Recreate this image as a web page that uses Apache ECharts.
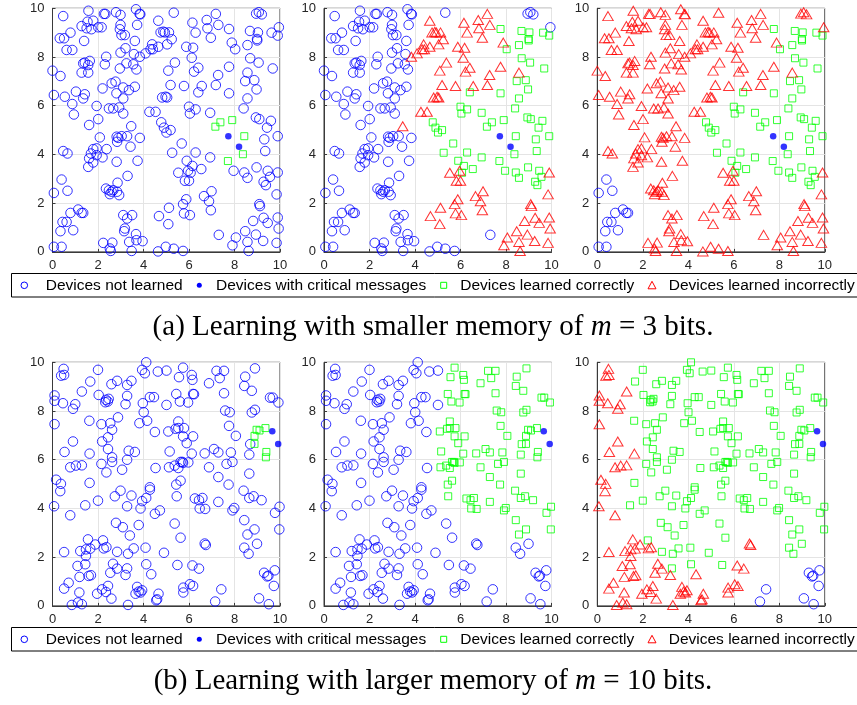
<!DOCTYPE html>
<html><head><meta charset="utf-8">
<script src="https://cdn.jsdelivr.net/npm/echarts@6/dist/echarts.min.js"></script>
<style>html,body{margin:0;padding:0;background:#fff}#c{width:857px;height:705px}</style>
</head><body><div id="c"></div>
<script>
// ---------- Row (a): m = 3 bits (same device positions in all three panels) ----------
// not learned in all three panels
const a_blueAll = [[0.06,2.42],[0.4,2.97],[0.66,2.51],[0.79,1.6],[1.13,1.74],[1.28,1.6],[1.35,1.6],[0.44,1.23],[0.62,1.23],[0.35,0.85],[0.91,0.89],[0.06,0.21],[0.4,0.21]];
// not learned in panels 1-2, learned incorrectly in panel 3
const a_blueBlueRed = [[3.67,9.96],[1.58,9.9],[2.79,9.84],[2.99,9.73],[2.26,9.77],[2.32,9.77],[3.83,9.77],[3.86,9.75],[0.47,9.68],[1.79,9.49],[1.54,9.45],[1.28,9.27],[1.5,9.18],[1.71,9.14],[2.01,9.22],[2.16,9.22],[2.99,9.32],[3.72,9.32],[2.96,9.14],[0.79,9.0],[0.32,8.77],[0.51,8.77],[3.03,8.9],[3.18,8.9],[3.62,8.66],[1.39,8.66],[0.62,8.29],[0.87,8.29],[3.21,8.36],[2.99,8.18],[3.58,8.12],[2.36,8.01],[1.64,7.84],[1.42,7.77],[1.57,7.67],[1.35,7.74],[3.25,7.74],[3.55,7.7],[3.69,7.49],[2.3,7.7],[2.96,7.53],[0.0,7.44],[1.28,7.36],[1.57,7.36],[0.35,7.22],[2.77,6.99],[2.6,6.92],[3.62,6.78],[3.11,6.75],[2.2,6.71],[1.03,6.58],[3.36,6.64],[2.81,6.51],[1.42,6.47],[0.06,6.44],[0.54,6.37],[1.35,6.3],[3.11,6.3],[0.87,6.07],[1.94,5.99],[2.48,5.89],[2.67,5.89],[2.93,5.93],[0.94,5.64],[3.11,5.68],[2.01,5.45],[1.61,5.21],[2.82,4.73],[2.89,4.68],[3.04,4.75],[3.28,4.75],[3.84,4.68],[2.08,4.7],[2.84,4.52],[3.43,4.32],[2.38,4.22],[1.79,4.22],[1.94,4.25],[0.47,4.14],[0.66,4.04],[1.69,4.04],[1.94,3.97],[2.2,3.88],[1.61,3.84],[3.74,3.74],[1.79,3.67],[2.82,3.7],[1.57,3.49],[3.3,3.12],[2.86,2.84],[2.35,2.6],[2.48,2.53],[2.6,2.47],[2.67,2.53],[2.84,2.47],[2.93,2.33],[2.52,2.37],[3.11,1.51],[3.5,1.51],[3.28,1.37],[3.18,0.96],[3.15,0.85],[3.67,0.73],[3.37,0.41],[3.69,0.48],[3.96,0.44],[2.23,0.37],[2.63,0.38],[2.52,0.14],[2.56,0.04],[3.48,0.04],[5.33,9.82],[8.95,9.78],[9.07,9.84],[9.2,9.75],[9.95,9.22],[7.31,0.7],[4.64,0.02],[4.98,0.21],[5.33,0.13],[5.74,0.04]];
// not learned in panel 1, learned incorrectly in panels 2-3
const a_blueRedRed = [[4.65,9.49],[4.75,9.01],[4.87,9.04],[4.94,9.01],[5.12,9.01],[6.15,9.41],[6.78,9.52],[7.18,9.77],[7.29,9.32],[6.81,9.18],[6.29,9.0],[5.24,8.73],[6.96,8.79],[4.38,8.52],[4.41,8.32],[4.31,8.32],[4.65,8.42],[5.04,8.52],[5.88,8.42],[6.18,8.38],[7.88,8.59],[4.09,8.15],[3.84,8.01],[6.12,7.97],[5.38,7.77],[6.41,7.56],[7.76,7.6],[5.09,7.44],[6.22,7.4],[8.57,7.36],[7.28,7.26],[5.19,6.85],[5.78,6.81],[6.56,6.81],[7.18,6.85],[4.82,6.34],[4.97,6.37],[5.04,6.34],[4.26,5.75],[4.53,5.75],[3.46,5.16],[5.53,3.25],[5.96,3.33],[5.82,2.92],[6.0,2.92],[6.99,2.49],[6.66,2.29],[6.88,2.08],[5.88,2.16],[5.74,1.96],[5.12,1.81],[6.96,1.71],[5.78,1.58],[6.04,1.51],[4.68,1.47],[5.09,1.14],[9.9,3.26],[9.85,2.36],[9.09,1.96],[9.12,1.88],[9.9,1.41],[9.28,1.4],[8.82,1.27],[9.46,1.19],[9.94,0.96],[8.47,0.85],[8.94,0.71],[8.06,0.59],[9.26,0.45],[8.57,0.41],[9.85,0.37],[7.91,0.27],[8.62,0.04]];
// not learned in panel 1, learned correctly in panels 2-3
const a_blueGreenGreen = [[7.76,9.15],[8.68,9.07],[9.03,9.01],[8.99,8.74],[9.0,8.68],[9.63,9.0],[9.9,8.88],[8.03,8.32],[8.57,8.49],[8.69,7.95],[9.06,7.77],[9.68,7.53],[8.47,7.01],[8.87,7.05],[8.97,6.67],[6.41,6.55],[7.76,6.51],[8.57,6.3],[6.0,5.96],[6.04,5.68],[6.29,5.85],[8.4,5.89],[6.93,5.71],[8.94,5.52],[9.09,5.45],[9.6,5.38],[4.78,5.32],[4.9,5.1],[5.19,5.0],[5.01,4.9],[9.43,5.1],[9.9,4.75],[9.31,4.62],[5.68,4.45],[5.26,4.07],[6.29,4.08],[9.35,4.14],[6.93,3.88],[5.9,3.74],[6.15,3.53],[6.54,3.4],[8.97,3.47],[7.96,3.33],[6.07,3.25],[8.43,3.26],[9.46,3.33],[9.56,3.08],[8.57,3.04],[9.28,2.88],[9.38,2.74]];
// learned correctly in all three panels
const a_greenAll = [[7.16,5.14],[7.38,5.32],[7.9,5.41],[8.43,4.75],[8.37,4.01],[7.71,3.73]];
// devices with critical messages
const a_critical = [[7.73,4.75],[8.2,4.32]];

// ---------- Row (b): m = 10 bits ----------
const b_blueAll = [[7.15,0.18],[7.42,0.68],[9.08,0.31],[9.3,1.36],[9.44,1.21],[9.49,1.24],[9.77,1.46],[9.73,0.82],[9.51,0.07]];
const b_blueBlueRed = [[0.49,9.73],[0.38,9.45],[0.51,9.48],[1.29,8.8],[0.09,8.64],[0.09,8.42],[0.46,8.32],[1.0,8.28],[0.9,8.09],[0.09,7.46],[0.9,6.75],[0.53,6.32],[1.63,6.25],[1.29,5.77],[1.03,5.76],[0.78,5.69],[0.16,5.18],[0.37,5.01],[0.34,4.71],[0.07,4.09],[0.78,3.72],[1.56,2.73],[1.88,2.52],[2.37,2.41],[2.25,2.36],[1.66,2.35],[1.47,2.32],[1.22,2.25],[1.47,2.05],[0.51,2.21],[6.69,2.56],[6.74,2.5],[1.1,1.64],[1.44,1.71],[2.66,1.73],[2.54,1.36],[2.84,1.53],[3.21,1.27],[4.34,1.3],[6.15,1.66],[6.44,1.53],[1.19,1.19],[1.59,1.23],[1.69,1.26],[0.71,0.95],[0.51,0.71],[1.18,0.55],[1.96,0.5],[2.18,0.68],[2.35,0.57],[2.44,0.82],[2.59,0.3],[3.72,0.78],[3.79,0.59],[3.87,0.55],[3.65,0.5],[3.94,0.64],[4.6,0.27],[4.66,0.5],[4.56,0.23],[5.75,0.75],[5.75,0.55],[6.04,0.89],[6.18,0.82],[0.85,0.04],[1.12,0.14],[1.29,0.07],[3.32,0.04]];
const b_blueBlueGreen = [[4.12,10.0],[3.94,9.69],[4.06,9.55],[4.63,9.62],[5.01,9.66],[2.0,9.69],[1.66,9.21],[2.59,9.1],[2.84,9.24],[3.28,9.07],[3.47,9.24],[2.03,8.66],[2.35,8.46],[2.43,8.39],[2.32,8.36],[2.47,8.5],[3.28,8.62],[3.21,8.28],[3.97,8.32],[4.28,8.57],[4.46,8.57],[5.01,8.25],[2.88,7.74],[1.62,7.6],[4.01,7.95],[4.16,7.6],[3.82,7.5],[2.15,7.46],[2.54,7.5],[2.62,7.23],[4.5,7.14],[2.44,6.92],[2.18,6.75],[3.35,6.37],[3.62,6.32],[2.44,6.44],[2.62,6.1],[2.62,5.91],[3.28,6.0],[2.15,5.83],[3.06,5.59],[2.37,5.48],[4.53,5.66],[1.63,5.05],[2.99,4.73],[4.28,4.87],[4.28,4.77],[3.47,4.53],[2.74,4.5],[4.12,4.43],[3.94,4.3],[2.0,4.32],[1.44,4.13],[3.28,4.09],[3.87,4.0],[4.72,3.92],[4.5,3.78],[2.79,3.41],[3.09,3.23],[3.79,3.32],[3.4,2.89],[5.37,3.38],[5.63,2.8],[2.22,2.69],[2.84,2.22],[3.32,2.14],[3.57,2.36],[4.09,2.39],[4.9,2.18],[3.28,1.54],[4.12,1.71],[5.49,1.68],[8.99,2.55],[8.43,2.39],[8.62,2.14]];
const b_blueGreenGreen = [[5.74,9.78],[5.56,9.39],[6.12,9.48],[6.15,9.28],[7.21,9.65],[7.54,9.65],[7.35,9.35],[6.88,9.14],[8.47,9.41],[8.43,9.03],[8.76,8.83],[8.9,9.75],[5.44,8.7],[6.18,8.7],[6.22,8.69],[7.54,8.73],[9.56,8.55],[9.68,8.55],[9.93,8.35],[5.6,8.39],[5.96,8.35],[7.59,8.02],[7.79,7.95],[8.9,8.05],[8.76,7.94],[5.53,7.57],[5.41,7.27],[5.53,7.3],[5.78,7.3],[5.09,7.16],[7.76,7.39],[5.74,6.96],[6.18,6.96],[8.06,6.98],[5.9,6.68],[8.69,6.64],[7.1,6.44],[7.29,6.3],[7.84,6.3],[6.69,6.26],[6.12,6.25],[5.15,6.34],[8.65,6.21],[5.37,5.76],[5.53,5.66],[5.12,5.69],[5.63,5.91],[5.71,5.91],[5.74,5.87],[5.97,5.89],[7.65,5.83],[7.91,5.91],[6.88,5.69],[8.65,5.43],[7.29,5.29],[5.63,5.14],[5.44,4.98],[7.74,4.98],[8.4,4.73],[5.46,4.5],[8.65,4.43],[8.84,4.5],[9.19,4.34],[6.26,4.41],[6.44,4.34],[6.59,4.43],[6.47,4.0],[6.71,3.98],[7.29,4.27],[7.91,3.92],[7.99,4.02],[9.98,4.07],[9.78,3.82],[8.43,3.52],[8.88,3.14],[8.57,2.93],[9.97,3.14]];
const b_greenAll = [[8.97,7.23],[9.1,7.2],[9.36,7.3],[8.88,6.98],[8.88,6.65],[9.4,6.32],[9.38,6.1]];
const b_critical = [[9.66,7.17],[9.92,6.65]];

// ---------- labels ----------
const axisTicks = [0, 2, 4, 6, 8, 10];
const legendNames = ['Devices not learned', 'Devices with critical messages', 'Devices learned correctly', 'Devices learned incorrectly'];
const captions = [['(a) Learning with smaller memory of ', 'm', ' = 3 bits.'], ['(b) Learning with larger memory of ', 'm', ' = 10 bits.']];

// panel contents: [notLearned, critical, correct, incorrect]
const panels = [
  [[...a_blueAll, ...a_blueBlueRed, ...a_blueRedRed, ...a_blueGreenGreen], a_critical, a_greenAll, []],
  [[...a_blueAll, ...a_blueBlueRed], a_critical, [...a_blueGreenGreen, ...a_greenAll], a_blueRedRed],
  [a_blueAll, a_critical, [...a_blueGreenGreen, ...a_greenAll], [...a_blueBlueRed, ...a_blueRedRed]],
  [[...b_blueAll, ...b_blueBlueRed, ...b_blueBlueGreen, ...b_blueGreenGreen], b_critical, b_greenAll, []],
  [[...b_blueAll, ...b_blueBlueRed, ...b_blueBlueGreen], b_critical, [...b_blueGreenGreen, ...b_greenAll], []],
  [b_blueAll, b_critical, [...b_blueBlueGreen, ...b_blueGreenGreen, ...b_greenAll], b_blueBlueRed]
];

const BLUE = '#0000ff', GREEN = '#00ff00', RED = '#ff0000';
const colLeft = [52.5, 324, 597.3];
const rowTop = [8.3, 362.3];
const W = 227.5, H = 243.6;

const grids = [], xAxes = [], yAxes = [], series = [];
const axisTextColor = '#262626';
for (let i = 0; i < 6; i++) {
  const r = Math.floor(i / 3), c = i % 3;
  grids.push({ left: colLeft[c], top: rowTop[r], width: W, height: H, show: true, borderColor: '#3a3a3a', borderWidth: 1, backgroundColor: '#fff' });
  const common = {
    gridIndex: i, type: 'value', min: axisTicks[0], max: axisTicks[axisTicks.length - 1], interval: 2,
    axisLine: { show: true, lineStyle: { color: '#3a3a3a', width: 1 } },
    axisTick: { show: true, inside: true, length: 3, lineStyle: { color: '#3a3a3a' } },
    axisLabel: { color: axisTextColor, fontSize: 13, fontFamily: 'Liberation Sans, Arial, sans-serif', margin: 7 },
    splitLine: { show: true, lineStyle: { color: '#e4e4e4', width: 1 } }
  };
  xAxes.push(Object.assign({}, common, { position: 'bottom' }));
  yAxes.push(Object.assign({}, common, { position: 'left', axisLabel: Object.assign({}, common.axisLabel, { margin: 8 }) }));
  const [nl, cr, ok, bad] = panels[i];
  series.push({ type: 'scatter', name: legendNames[0], xAxisIndex: i, yAxisIndex: i, data: nl, symbol: 'circle', symbolSize: 9.5,
    itemStyle: { color: 'rgba(0,0,0,0)', borderColor: BLUE, borderWidth: 1 } });
  if (ok.length) series.push({ type: 'scatter', name: legendNames[2], xAxisIndex: i, yAxisIndex: i, data: ok, symbol: 'rect', symbolSize: 7,
    itemStyle: { color: 'rgba(0,0,0,0)', borderColor: GREEN, borderWidth: 1 } });
  if (bad.length) series.push({ type: 'scatter', name: legendNames[3], xAxisIndex: i, yAxisIndex: i, data: bad, symbol: 'triangle', symbolSize: [10.5, 9],
    itemStyle: { color: 'rgba(0,0,0,0)', borderColor: RED, borderWidth: 1 } });
  series.push({ type: 'scatter', name: legendNames[1], xAxisIndex: i, yAxisIndex: i, data: cr, symbol: 'circle', symbolSize: 6.5,
    itemStyle: { color: BLUE } });
}

// legends and captions as graphic elements
const graphic = [];
const legendTop = [273.5, 627.5];
const textX = [45.7, 216, 460.3, 668.7];
const legendFont = 'Liberation Sans, Arial, sans-serif';
for (let r = 0; r < 2; r++) {
  const y0 = legendTop[r], cy = y0 + 11.8;
  graphic.push({ type: 'rect', shape: { x: 11.5, y: y0, width: 860, height: 23.5 }, style: { fill: '#fff', stroke: '#000', lineWidth: 1 }, silent: true });
  graphic.push({ type: 'circle', shape: { cx: 24.3, cy: cy, r: 3.3 }, style: { fill: 'none', stroke: BLUE, lineWidth: 1 }, silent: true });
  graphic.push({ type: 'circle', shape: { cx: 199.3, cy: cy, r: 2.5 }, style: { fill: BLUE, stroke: null }, silent: true });
  graphic.push({ type: 'rect', shape: { x: 440.7, y: cy - 3, width: 6, height: 6 }, style: { fill: 'none', stroke: GREEN, lineWidth: 1 }, silent: true });
  graphic.push({ type: 'polygon', shape: { points: [[648, cy + 3.5], [656, cy + 3.5], [652, cy - 4]] }, style: { fill: 'none', stroke: RED, lineWidth: 1 }, silent: true });
  for (let k = 0; k < 4; k++) {
    graphic.push({ type: 'text', x: textX[k], y: cy, silent: true,
      style: { text: legendNames[k], fill: '#000', font: '15.5px ' + legendFont, textVerticalAlign: 'middle', textAlign: 'left' } });
  }
  const cap = captions[r];
  graphic.push({ type: 'text', x: 433, y: r === 0 ? 327 : 681, silent: true,
    style: {
      text: '{n|' + cap[0] + '}{i|' + cap[1] + '}{n|' + cap[2] + '}',
      textAlign: 'center', textVerticalAlign: 'middle',
      rich: {
        n: { fontFamily: 'Liberation Serif, Times New Roman, serif', fontSize: 29, fill: '#000', color: '#000' },
        i: { fontFamily: 'Liberation Serif, Times New Roman, serif', fontSize: 29, fontStyle: 'italic', fill: '#000', color: '#000' }
      }
    } });
}

const chart = echarts.init(document.getElementById('c'), null, { renderer: 'canvas' });
chart.setOption({
  animation: false,
  backgroundColor: '#fff',
  grid: grids, xAxis: xAxes, yAxis: yAxes, series: series, graphic: graphic
});
</script></body></html>
